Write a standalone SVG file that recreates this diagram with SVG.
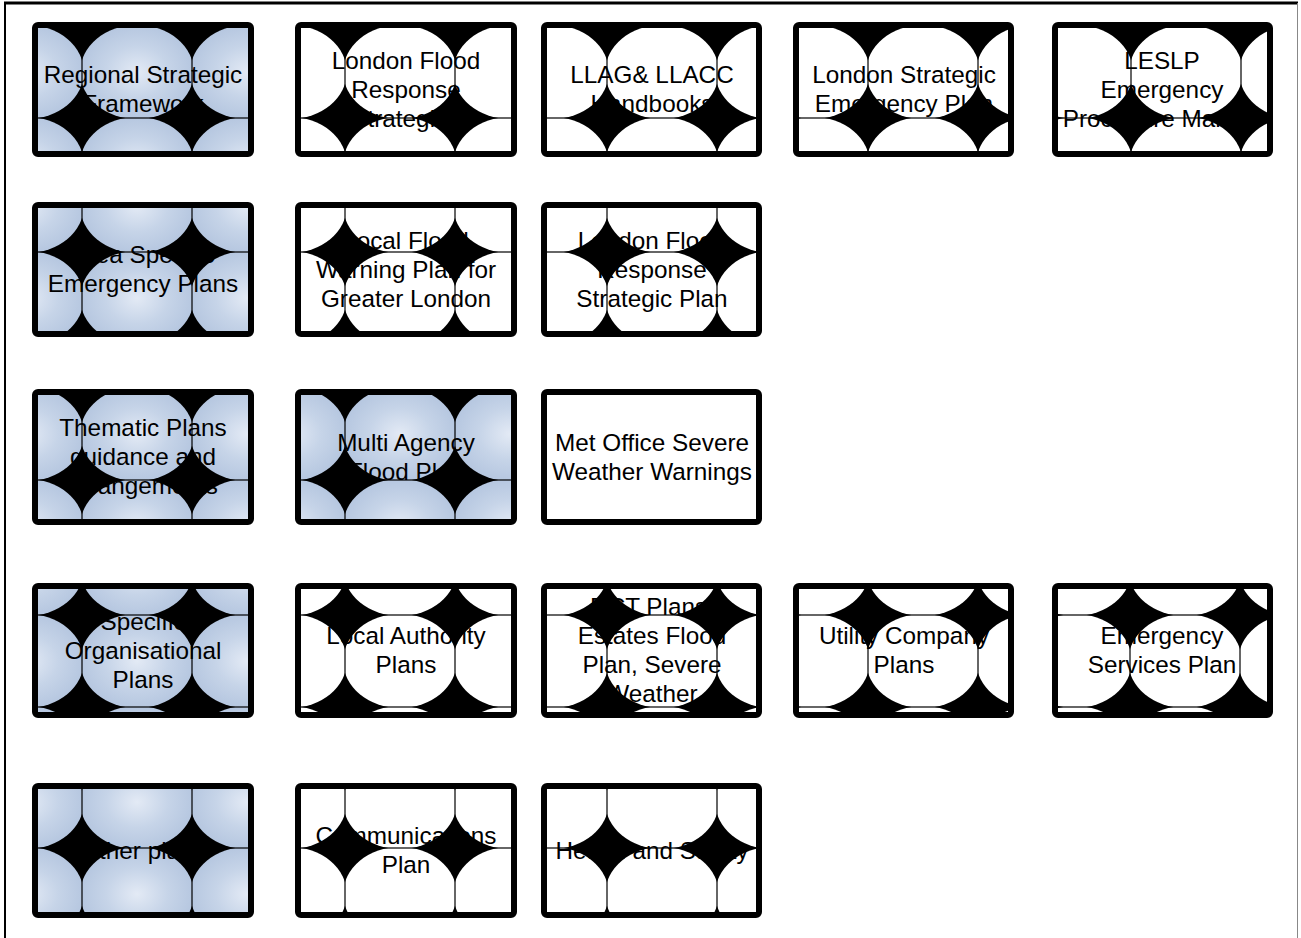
<svg xmlns="http://www.w3.org/2000/svg" xmlns:xlink="http://www.w3.org/1999/xlink" width="1301" height="938" viewBox="0 0 1301 938">
<style>
.box{stroke:#000;stroke-width:6}
.plain{fill:#fff}
text{font-family:"Liberation Sans",Arial,sans-serif;font-size:24.3px;fill:#000;text-anchor:middle}
</style>
<defs>
<radialGradient id="rg" cx="0.5" cy="0.5" r="0.5">
<stop offset="0" stop-color="#e3eaf5"/>
<stop offset="0.55" stop-color="#c6d4e8"/>
<stop offset="1" stop-color="#b6c7e0"/>
</radialGradient>
<pattern id="tw" width="110" height="92" patternUnits="userSpaceOnUse">
<rect width="110" height="92" fill="#000"/>
<ellipse cx="55" cy="46" rx="56.8" ry="47" fill="#fff"/>
<rect width="110" height="92" fill="none" stroke="#000" stroke-width="1.2"/>
</pattern>
<pattern id="tb" width="110" height="92" patternUnits="userSpaceOnUse">
<rect width="110" height="92" fill="#000"/>
<ellipse cx="55" cy="46" rx="56.8" ry="47" fill="url(#rg)"/>
<rect width="110" height="92" fill="none" stroke="#000" stroke-width="1.2"/>
</pattern>
<pattern id="p11" xlink:href="#tb" x="82" y="118"/>
<pattern id="p12" xlink:href="#tw" x="345" y="118"/>
<pattern id="p13" xlink:href="#tw" x="607" y="118"/>
<pattern id="p14" xlink:href="#tw" x="868" y="118"/>
<pattern id="p15" xlink:href="#tw" x="1131" y="118"/>
<pattern id="p21" xlink:href="#tb" x="82" y="252"/>
<pattern id="p22" xlink:href="#tw" x="345" y="252"/>
<pattern id="p23" xlink:href="#tw" x="607" y="252"/>
<pattern id="p31" xlink:href="#tb" x="82" y="480"/>
<pattern id="p32" xlink:href="#tb" x="345" y="480"/>
<pattern id="p41" xlink:href="#tb" x="82" y="615"/>
<pattern id="p42" xlink:href="#tw" x="345" y="615"/>
<pattern id="p43" xlink:href="#tw" x="607" y="615"/>
<pattern id="p44" xlink:href="#tw" x="868" y="615"/>
<pattern id="p45" xlink:href="#tw" x="1130" y="615"/>
<pattern id="p51" xlink:href="#tb" x="82" y="848"/>
<pattern id="p52" xlink:href="#tw" x="345" y="848"/>
<pattern id="p53" xlink:href="#tw" x="607" y="848"/>
</defs>
<g id="frame">
<line x1="5" y1="2" x2="5" y2="938" stroke="#000" stroke-width="2"/>
<line x1="4" y1="3" x2="1298" y2="3" stroke="#000" stroke-width="3"/>
<line x1="1297.5" y1="3" x2="1297.5" y2="938" stroke="#888" stroke-width="1"/>
</g>
<g id="connectors"/>
<g id="n11"><rect class="box" x="35" y="25" width="216" height="129" rx="3" fill="url(#p11)"/><text x="143" y="83">Regional Strategic</text><text x="143" y="112">Framework</text></g>
<g id="n12"><rect class="box" x="298" y="25" width="216" height="129" rx="3" fill="url(#p12)"/><text x="406" y="68.5">London Flood</text><text x="406" y="97.5">Response</text><text x="406" y="126.5">Strategies</text></g>
<g id="n13"><rect class="box" x="544" y="25" width="215" height="129" rx="3" fill="url(#p13)"/><text x="652" y="83">LLAG&amp; LLACC</text><text x="652" y="112">Handbooks</text></g>
<g id="n14"><rect class="box" x="796" y="25" width="215" height="129" rx="3" fill="url(#p14)"/><text x="904" y="83">London Strategic</text><text x="904" y="112">Emergency Plan</text></g>
<g id="n15"><rect class="box" x="1055" y="25" width="215" height="129" rx="3" fill="url(#p15)"/><text x="1162" y="68.5">LESLP</text><text x="1162" y="97.5">Emergency</text><text x="1162" y="126.5">Procedure Manual</text></g>
<g id="n21"><rect class="box" x="35" y="205" width="216" height="129" rx="3" fill="url(#p21)"/><text x="143" y="263">Area Specific</text><text x="143" y="292">Emergency Plans</text></g>
<g id="n22"><rect class="box" x="298" y="205" width="216" height="129" rx="3" fill="url(#p22)"/><text x="406" y="248.5">Local Flood</text><text x="406" y="277.5">Warning Plan for</text><text x="406" y="306.5">Greater London</text></g>
<g id="n23"><rect class="box" x="544" y="205" width="215" height="129" rx="3" fill="url(#p23)"/><text x="652" y="248.5">London Flood</text><text x="652" y="277.5">Response</text><text x="652" y="306.5">Strategic Plan</text></g>
<g id="n31"><rect class="box" x="35" y="392" width="216" height="130" rx="3" fill="url(#p31)"/><text x="143" y="436">Thematic Plans</text><text x="143" y="465">guidance and</text><text x="143" y="494">arrangements</text></g>
<g id="n32"><rect class="box" x="298" y="392" width="216" height="130" rx="3" fill="url(#p32)"/><text x="406" y="450.5">Multi Agency</text><text x="406" y="479.5">Flood Plan</text></g>
<g id="n33"><rect class="box plain" x="544" y="392" width="215" height="130" rx="3"/><text x="652" y="450.5">Met Office Severe</text><text x="652" y="479.5">Weather Warnings</text></g>
<g id="n41"><rect class="box" x="35" y="586" width="216" height="129" rx="3" fill="url(#p41)"/><text x="143" y="629.5">Specific</text><text x="143" y="658.5">Organisational</text><text x="143" y="687.5">Plans</text></g>
<g id="n42"><rect class="box" x="298" y="586" width="216" height="129" rx="3" fill="url(#p42)"/><text x="406" y="644">Local Authority</text><text x="406" y="673">Plans</text></g>
<g id="n43"><rect class="box" x="544" y="586" width="215" height="129" rx="3" fill="url(#p43)"/><text x="652" y="615">DCT Plans,</text><text x="652" y="644">Estates Flood</text><text x="652" y="673">Plan, Severe</text><text x="652" y="702">Weather</text></g>
<g id="n44"><rect class="box" x="796" y="586" width="215" height="129" rx="3" fill="url(#p44)"/><text x="904" y="644">Utility Company</text><text x="904" y="673">Plans</text></g>
<g id="n45"><rect class="box" x="1055" y="586" width="215" height="129" rx="3" fill="url(#p45)"/><text x="1162" y="644">Emergency</text><text x="1162" y="673">Services Plan</text></g>
<g id="n51"><rect class="box" x="35" y="786" width="216" height="129" rx="3" fill="url(#p51)"/><text x="143" y="858.5">Other plans</text></g>
<g id="n52"><rect class="box" x="298" y="786" width="216" height="129" rx="3" fill="url(#p52)"/><text x="406" y="844">Communications</text><text x="406" y="873">Plan</text></g>
<g id="n53"><rect class="box" x="544" y="786" width="215" height="129" rx="3" fill="url(#p53)"/><text x="652" y="858.5">Health and Safety</text></g>
</svg>
